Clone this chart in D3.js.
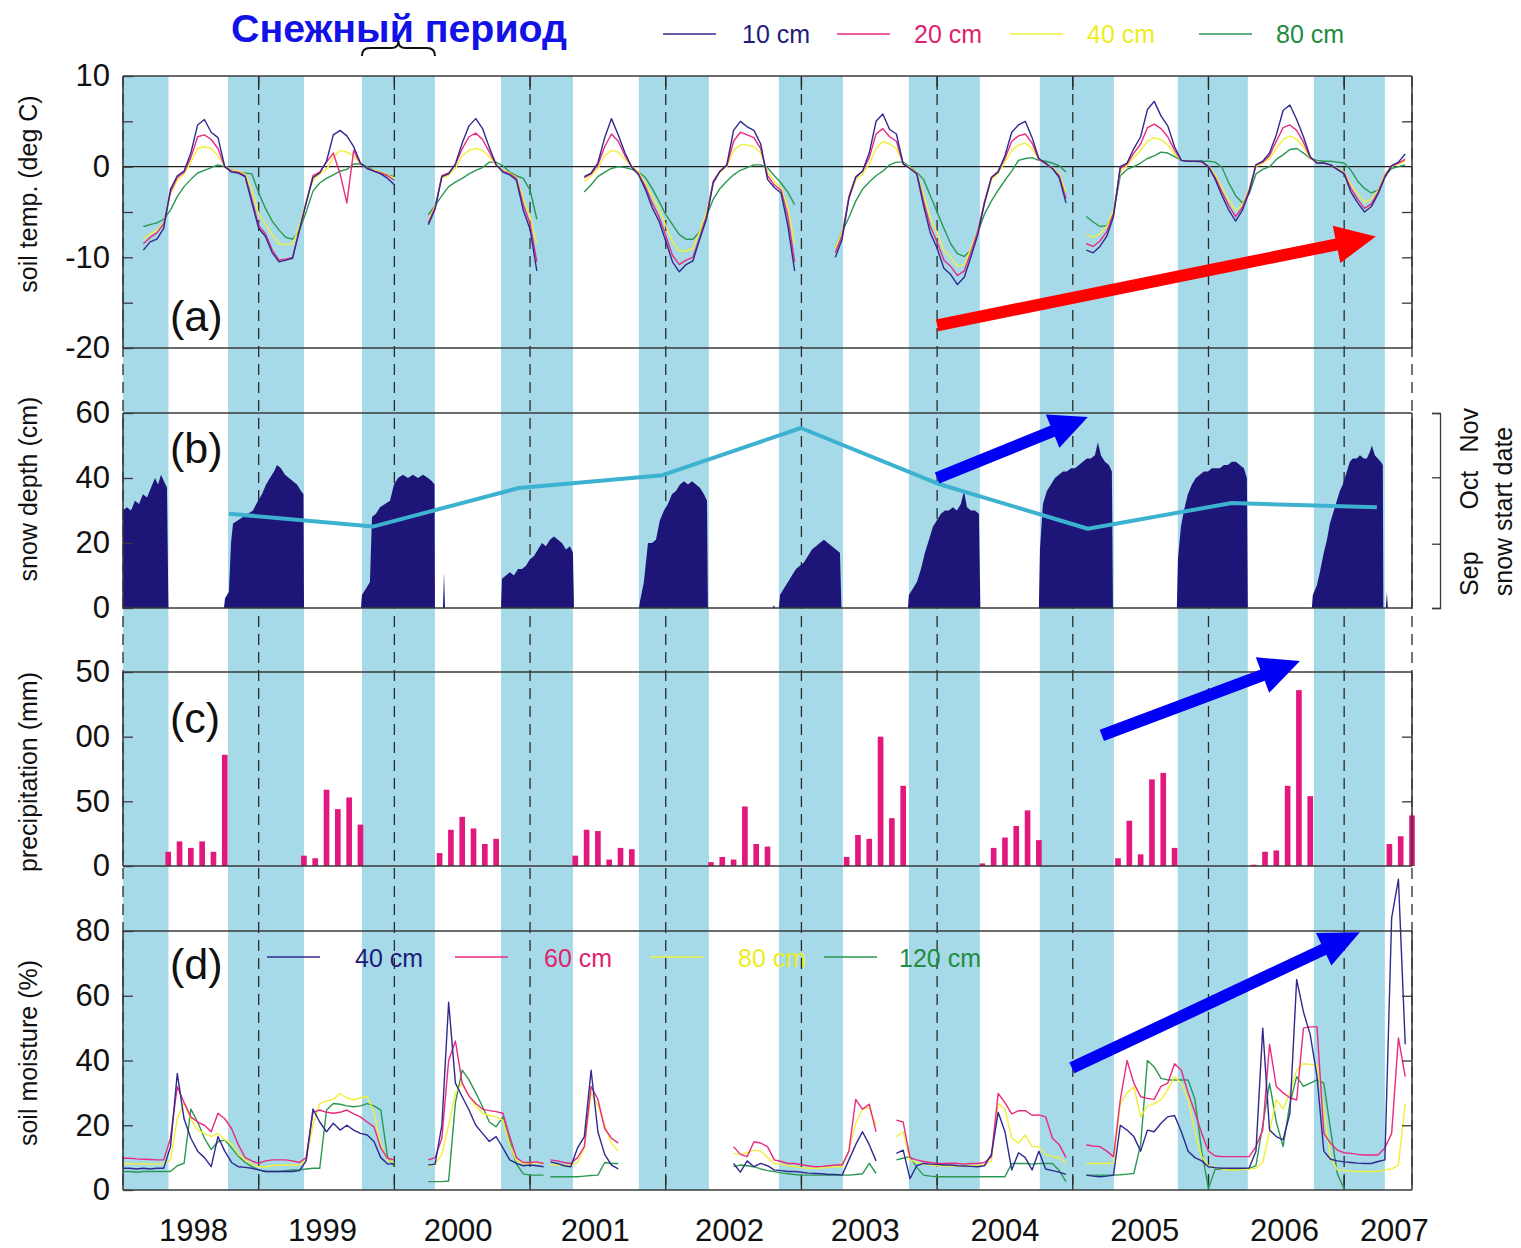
<!DOCTYPE html>
<html>
<head>
<meta charset="utf-8">
<script src="https://cdn.jsdelivr.net/npm/d3@7"></script>
<style>
  html, body { margin: 0; padding: 0; background: #ffffff; }
  svg { display: block; }
  text { font-family: "Liberation Sans", Arial, Helvetica, sans-serif; }
</style>
</head>
<body>
<svg id="chart" width="1521" height="1248"></svg>
<script>
// ---------------------------------------------------------------
// Data
// ---------------------------------------------------------------

// Snow-covered periods (decimal years), drawn as light-blue bands
const snowPeriods = [
  [1998.000, 1998.335], [1998.774, 1999.334], [1999.761, 2000.299],
  [2000.786, 2001.316], [2001.802, 2002.318], [2002.834, 2003.306],
  [2003.792, 2004.315], [2004.757, 2005.303], [2005.774, 2006.290],
  [2006.777, 2007.300]
];

// Year labels on the time axis and where they sit (decimal years)
const yearLabels = ["1998", "1999", "2000", "2001", "2002", "2003", "2004", "2005", "2006", "2007"];
const yearLabelPos = [1998.52, 1999.47, 2000.47, 2001.48, 2002.47, 2003.47, 2004.50, 2005.53, 2006.56, 2007.37];

// Sensor readings are on a regular grid of 0.05 yr, stored by record segment
const gridStep = 0.05;

// (a) soil temperature, deg C
const tempSegmentStarts = [1998.15, 2000.25, 2001.40, 2003.25, 2005.10];
const soilTemp10 = [
  [-9.2,-8.3,-8.0,-6.8,-2.5,-1.0,-0.5,1.5,4.6,5.2,3.8,3.2,0.0,-0.6,-0.7,-1.1,-4.0,-6.8,-7.7,-9.5,-10.5,-10.3,-10.1,-7.0,-4.0,-1.2,-0.7,0.6,3.5,4.0,3.4,2.2,0.4,-0.2,-0.5,-0.8,-1.3,-2.0],
  [-6.4,-4.7,-1.1,-0.8,0.3,2.6,4.5,5.3,4.2,2.1,0.2,-0.6,-0.9,-1.5,-4.8,-6.9,-11.5],
  [-1.1,-0.7,0.4,3.2,5.3,3.5,1.5,-0.1,-0.9,-2.5,-4.5,-6.0,-8.2,-10.5,-11.6,-10.8,-10.4,-8.0,-5.8,-1.8,-0.5,0.2,4.0,5.0,4.4,4.0,2.5,-1.4,-2.3,-2.9,-6.5,-11.5],
  [-10.0,-8.0,-3.5,-1.2,-0.5,1.5,5.0,5.8,4.1,3.6,0.3,-0.2,-0.8,-4.3,-7.3,-9.0,-11.2,-11.9,-13.0,-12.2,-9.9,-7.5,-4.0,-1.2,-0.6,1.2,3.8,4.6,5.0,3.2,0.9,0.4,-0.2,-1.2,-4.0],
  [-9.2,-9.5,-8.8,-7.7,-5.5,0.0,0.4,2.0,3.3,6.3,7.2,5.6,4.5,2.2,0.7,0.6,0.6,0.6,0.0,-1.4,-3.2,-4.8,-6.0,-4.8,-2.8,0.2,0.6,1.5,3.5,6.2,6.8,5.2,3.3,1.1,0.4,0.4,0.2,-0.3,-0.8,-2.8,-4.0,-5.0,-4.4,-3.0,-1.2,0.1,0.5,1.4]
];
const soilTemp20 = [
  [-8.5,-7.8,-7.3,-6.3,-2.8,-1.2,-0.6,1.0,3.3,3.5,3.0,2.0,0.0,-0.5,-0.6,-1.0,-3.6,-6.5,-7.4,-9.2,-10.3,-10.2,-10.0,-7.0,-4.0,-1.0,-0.6,0.5,1.5,-0.8,-4.0,1.8,0.3,-0.2,-0.5,-0.7,-1.0,-1.5],
  [-6.2,-4.5,-1.0,-0.7,0.2,2.0,3.3,3.7,3.0,1.6,0.2,-0.5,-0.8,-1.3,-4.2,-6.3,-10.5],
  [-1.2,-0.8,0.2,2.2,3.6,2.8,1.2,0.0,-0.8,-2.2,-4.0,-5.5,-7.6,-9.8,-10.8,-10.3,-10.0,-7.8,-5.5,-1.6,-0.5,0.1,2.8,3.8,3.5,3.2,2.0,-1.0,-2.0,-2.6,-5.5,-10.5],
  [-9.5,-7.6,-3.3,-1.1,-0.5,1.0,3.6,4.2,3.3,2.8,0.3,-0.2,-0.7,-3.8,-6.6,-8.3,-10.3,-11.0,-12.0,-11.5,-9.4,-7.1,-3.8,-1.2,-0.5,0.9,2.8,3.4,3.6,2.6,0.8,0.3,-0.2,-1.0,-3.5],
  [-8.5,-8.8,-8.2,-7.2,-5.2,-0.2,0.3,1.5,2.5,4.3,4.7,4.2,3.3,1.8,0.7,0.6,0.6,0.5,0.0,-1.2,-2.8,-4.3,-5.5,-4.5,-2.6,0.2,0.5,1.2,2.8,4.3,4.6,4.0,2.7,1.0,0.4,0.4,0.2,-0.3,-0.7,-2.4,-3.6,-4.6,-4.1,-2.8,-1.0,0.1,0.4,0.8]
];
const soilTemp40 = [
  [-8.0,-7.4,-7.0,-6.2,-3.0,-1.5,-0.8,0.5,2.0,2.2,2.0,1.2,0.1,-0.4,-0.5,-0.8,-2.5,-5.2,-6.3,-7.5,-8.5,-8.6,-8.5,-6.5,-3.8,-1.5,-0.8,-0.3,1.0,1.8,1.6,1.2,0.3,-0.2,-0.4,-0.6,-0.9,-1.3],
  [-6.0,-4.3,-1.3,-0.9,-0.2,1.2,1.8,2.0,1.8,1.1,0.2,-0.4,-0.7,-1.2,-3.5,-5.5,-8.5],
  [-1.6,-1.0,-0.2,1.2,1.8,1.6,0.8,0.0,-0.6,-1.8,-3.3,-4.6,-6.5,-8.3,-9.3,-9.3,-9.0,-7.2,-5.0,-1.8,-0.6,0.0,1.8,2.4,2.4,2.2,1.5,-0.6,-1.6,-2.3,-4.5,-8.5],
  [-9.0,-7.2,-3.5,-1.5,-0.8,0.3,2.0,2.8,2.5,2.0,0.4,-0.1,-0.6,-3.0,-5.6,-7.3,-9.2,-10.0,-11.0,-10.8,-9.0,-7.0,-4.0,-1.5,-0.7,0.5,1.8,2.4,2.6,2.0,0.8,0.3,-0.1,-0.8,-2.8],
  [-7.5,-7.8,-7.4,-6.6,-4.8,-0.5,0.1,1.0,1.8,2.8,3.2,3.0,2.4,1.4,0.7,0.6,0.6,0.5,0.1,-0.9,-2.3,-3.7,-4.8,-4.2,-2.4,0.0,0.4,0.9,2.0,3.0,3.4,3.0,2.2,0.9,0.5,0.4,0.2,-0.2,-0.6,-2.0,-3.0,-3.9,-3.6,-2.6,-0.8,0.0,0.3,0.6]
];
const soilTemp80 = [
  [-6.6,-6.4,-6.2,-5.8,-4.8,-3.3,-2.2,-1.4,-0.7,-0.4,-0.1,0.2,0.0,-0.4,-0.6,-0.7,-0.8,-2.9,-4.6,-6.0,-7.0,-7.8,-8.0,-7.0,-5.0,-2.7,-1.8,-1.3,-0.9,-0.5,-0.3,0.3,0.3,0.0,-0.4,-0.6,-0.9,-1.1],
  [-5.3,-4.3,-3.2,-2.2,-1.7,-1.3,-0.8,-0.4,-0.1,0.5,0.5,0.1,-0.6,-1.0,-1.3,-2.6,-5.8],
  [-2.8,-2.0,-1.1,-0.6,-0.2,0.0,-0.1,-0.3,-0.6,-1.2,-2.4,-3.8,-5.3,-6.4,-7.5,-8.0,-8.0,-7.2,-5.5,-3.6,-2.4,-1.6,-0.9,-0.4,-0.1,0.2,0.2,-0.1,-1.0,-1.8,-2.8,-4.2],
  [-9.0,-7.2,-5.6,-3.8,-2.5,-1.7,-1.0,-0.5,0.2,0.5,0.5,0.0,-0.6,-1.4,-3.2,-5.0,-6.8,-8.5,-9.6,-9.9,-9.2,-7.3,-5.2,-3.8,-2.6,-1.5,-0.5,0.7,0.9,1.0,0.7,0.6,0.4,0.1,-0.6],
  [-5.5,-6.1,-6.6,-6.5,-5.2,-1.0,-0.3,0.0,0.4,0.9,1.2,1.6,1.5,1.1,0.7,0.6,0.6,0.6,0.6,0.5,-0.1,-1.8,-3.2,-4.0,-3.0,-0.8,-0.3,0.0,0.8,1.3,1.9,2.0,1.5,0.9,0.7,0.6,0.6,0.5,0.4,-0.4,-1.6,-2.4,-2.9,-2.6,-1.0,-0.2,0.0,0.2]
];

// (b) snow depth, cm: [decimal year, depth]
const snowDepth = [
  [1998.000,30],[1998.029,31],[1998.059,30],[1998.088,33],[1998.118,32],[1998.147,35],[1998.177,34],[1998.206,37],[1998.236,40],[1998.258,38],[1998.280,41],[1998.302,39],[1998.324,37],[1998.335,0],
  [1998.744,0],[1998.752,3],[1998.781,5],[1998.796,20],[1998.811,26],[1998.848,27],[1998.884,28],[1998.921,29],[1998.958,30],[1998.995,33],[1999.024,35],[1999.054,38],[1999.083,40],[1999.113,42],[1999.135,44],[1999.164,43],[1999.194,41],[1999.223,40],[1999.253,39],[1999.282,38],[1999.312,36],[1999.330,35],[1999.334,0],
  [1999.754,0],[1999.761,4],[1999.791,6],[1999.820,8],[1999.835,28],[1999.864,29],[1999.894,31],[1999.931,32],[1999.968,33],[1999.997,38],[2000.027,40],[2000.063,41],[2000.100,40],[2000.137,41],[2000.174,40],[2000.211,41],[2000.248,40],[2000.277,39],[2000.296,38],[2000.299,0],[2000.358,0],[2000.366,11],[2000.373,0],
  [2000.786,0],[2000.793,9],[2000.822,10],[2000.852,11],[2000.881,10],[2000.911,12],[2000.940,12],[2000.970,13],[2000.999,15],[2001.029,16],[2001.058,18],[2001.088,20],[2001.117,19],[2001.147,21],[2001.176,22],[2001.206,21],[2001.235,20],[2001.265,18],[2001.294,19],[2001.316,17],[2001.324,0],
  [2001.803,0],[2001.810,2],[2001.839,8],[2001.869,20],[2001.898,20],[2001.928,21],[2001.957,27],[2001.987,30],[2002.016,32],[2002.046,35],[2002.075,36],[2002.105,38],[2002.134,39],[2002.164,38],[2002.193,39],[2002.223,38],[2002.252,37],[2002.282,35],[2002.304,33],[2002.311,0],
  [2002.790,0],[2002.797,1],[2002.805,0],[2002.834,0],[2002.842,4],[2002.871,6],[2002.901,8],[2002.930,10],[2002.960,12],[2002.989,13],[2003.018,14],[2003.048,16],[2003.077,18],[2003.107,19],[2003.136,20],[2003.166,21],[2003.195,20],[2003.225,19],[2003.254,18],[2003.284,17],[2003.295,0],
  [2003.785,0],[2003.792,4],[2003.822,6],[2003.851,8],[2003.881,12],[2003.910,17],[2003.940,21],[2003.969,25],[2003.999,27],[2004.028,29],[2004.058,30],[2004.087,30],[2004.116,31],[2004.146,30],[2004.175,32],[2004.198,36],[2004.220,31],[2004.249,30],[2004.279,30],[2004.308,29],[2004.319,0],
  [2004.750,0],[2004.758,18],[2004.780,32],[2004.809,36],[2004.839,38],[2004.868,40],[2004.898,41],[2004.927,42],[2004.957,42],[2004.986,43],[2005.016,43],[2005.045,44],[2005.074,45],[2005.104,46],[2005.133,46],[2005.163,47],[2005.185,51],[2005.207,47],[2005.237,45],[2005.266,44],[2005.288,42],[2005.296,0],
  [2005.767,0],[2005.775,15],[2005.797,25],[2005.819,30],[2005.848,35],[2005.878,38],[2005.907,40],[2005.937,41],[2005.966,42],[2005.996,42],[2006.025,43],[2006.055,43],[2006.084,43],[2006.114,44],[2006.143,44],[2006.172,45],[2006.202,45],[2006.231,44],[2006.261,43],[2006.283,40],[2006.290,0],
  [2006.762,0],[2006.769,4],[2006.799,7],[2006.821,11],[2006.850,17],[2006.873,21],[2006.895,26],[2006.917,29],[2006.946,33],[2006.968,36],[2006.990,38],[2007.020,42],[2007.042,45],[2007.064,46],[2007.094,46],[2007.116,47],[2007.145,46],[2007.167,46],[2007.189,48],[2007.204,50],[2007.226,47],[2007.248,46],[2007.270,45],[2007.285,44],[2007.289,0],[2007.307,0],[2007.315,5],[2007.322,0]
];

// (b, right axis) snow start date, days after 1 September
const snowStartYears = [1998.781, 1999.842, 2000.918, 2001.976, 2002.996, 2004.006, 2005.111, 2006.172, 2007.241];
const snowStartDays  = [44, 38, 56, 62, 84, 58, 37, 49, 47];
const monthBoundaryDays = [0, 30, 61, 91];
const monthLabels = ["Sep", "Oct", "Nov"];
const monthLabelDays = [16, 55, 83];

// (c) monthly precipitation, mm (May..Oct of each year; 2007 to July)
const precipYears = [1998, 1999, 2000, 2001, 2002, 2003, 2004, 2005, 2006, 2007];
const precipFirstMonth = 5;
const precipMonthly = [
  [11, 19, 14, 19, 11, 86],
  [8, 6, 59, 44, 53, 32],
  [10, 28, 38, 29, 17, 21],
  [8, 28, 27, 5, 14, 13],
  [3, 7, 5, 46, 17, 15],
  [7, 24, 21, 100, 37, 62],
  [2, 14, 22, 31, 43, 20],
  [6, 35, 9, 67, 72, 14],
  [1, 11, 12, 62, 136, 54],
  [17, 23, 39]
];
const precipTicks = [0, 50, 100, 150];
const precipTickLabels = ["0", "50", "00", "50"];

// (d) soil moisture, %
const moistSegmentStarts = [1998.00, 2000.25, 2001.15, 2002.50, 2003.70, 2005.10];
const moist40 = [
  [6.7,6.7,6.5,6.7,6.5,6.7,6.7,13.4,36,22,16,12,10,7.2,16.5,12,8.5,7.2,7.0,6.7,6.2,5.7,5.7,5.7,5.7,5.7,6.0,9.0,25,21,18,20.6,18.5,20,18.5,17.5,17,15,10,8,8.2],
  [7.7,8.0,20,58,33,28.8,24.7,20,17.5,15,16.5,13,9.3,8.2,7.5,7.7,7.5,7.2],
  [8.7,8.2,7.5,7.2,13,16.5,37,18,11,7.7,6.5],
  [8.2,5.5,9.0,7.2,8.2,7.5,6.2,6.0,5.7,5.7,5.5,5.2,5.1,5.0,4.8,4.8,4.6,9.3,14,18,14,9],
  [11.3,12.3,3.5,7.5,8.2,8.0,7.9,7.7,7.7,7.5,7.4,7.3,7.2,7.5,11,24,18,6.2,11.5,10,6.2,12,6.5,6.0,5.5,4.8],
  [4.6,4.3,4.1,4.3,4.6,20,18.5,16.5,12,18.5,18,20.6,22.6,23,18,12,10,9.0,7.2,6.9,6.7,6.7,6.7,6.7,6.8,12,50,18.5,16.5,15.5,23.7,65,55,48,35,12,9.5,9.0,8.7,8.5,8.3,8.2,8.2,8.8,9.3,84,96,45]
];
const moist60 = [
  [9.8,9.8,9.6,9.5,9.4,9.3,9.3,16,32,27,22.6,21,20,18,23.7,22,19,14,10,9,8.2,9.0,9.3,9.3,9.3,9.0,8.5,10,24,24.7,24,23.7,24,24.7,23.5,22.6,21,19.5,13,9.8,9.3],
  [9.3,10,16,40,46,33,29,26.7,25,24.5,24.2,23.7,16.5,10,8.5,8.5,8.7,8.2],
  [9.3,9.0,8.5,8.2,10,13.4,32,28,19,16,14.5],
  [13.4,11,10.3,14.9,14.5,13.4,9.3,8.8,8.2,8.2,7.8,7.5,7.2,7.3,7.5,7.7,7.7,12,28,25,26.5,18],
  [21.6,21,10,9.3,8.8,8.5,8.2,8.2,8.3,8.2,8.0,8.2,8.2,8.5,10.3,29.8,27,23.5,24.5,24.5,23.1,23.2,22.6,16,14,10],
  [13.9,13.6,13.4,12,10.3,27.8,40,33,28.8,28.3,28,32,33,39,37,30,24,17.5,12,10.5,10.3,10.3,10.3,10.3,10.3,13.4,18.5,45,32,30,28.5,27.8,50,50.4,50.4,17.5,14.4,12.3,11.5,11.3,11.0,10.8,10.8,10.8,13,17.5,47,35]
];
const moist80 = [
  [8.2,8.2,8.0,8.2,8.0,8.0,8.2,9.3,22,27,22,18.5,17.5,16.5,17.5,15.5,14.4,11,9.3,8,7.2,7.2,7.5,7.7,7.7,7.7,7.7,9.5,20,26.7,27.5,28,29.8,28.5,27.8,28.5,28.8,24,14,9.3,8.2],
  [7.2,8,11,20,30,33,29,26,23.7,23,22.6,21.6,14,9,8.2,8,8.5,8.2],
  [7.7,7.7,7.5,7.7,8.5,13,30,26,20,14.4,12],
  [11.3,11,11.5,12.3,12,10,8.2,8,7.5,7.2,6.9,6.7,6.7,6.8,7,7.2,7.2,12,20.6,25,25.5,20],
  [16.5,18,9.3,8.5,8.0,7.8,7.5,7.5,7.4,7.4,7.5,7.6,7.6,7.7,9,26.7,25,16,14.5,17,13.4,13.4,11,10.3,10,8.2],
  [8.2,8.2,8.2,8.2,8.3,26.7,30,31.9,22.6,26,26.7,27.8,31,35,32.9,28,18,10.3,7.5,7.0,6.5,6.2,6.2,6.3,6.5,6.7,8.5,18,28,25,30,37,39,38.8,38.6,25,10,6.2,6.0,5.8,5.7,5.7,5.7,5.8,6.2,6.5,7.7,26.7]
];
const moist120 = [
  [5.7,5.7,5.5,5.7,5.7,5.7,5.7,5.7,7.5,8.2,25,21,16,12.5,15,15.4,13,10.5,8.5,7.2,6.2,5.7,5.7,5.7,6.0,6.2,6.2,6.5,6.7,6.7,24.7,26.7,26.5,26,25.7,26,26.7,26,24.7,10,7.2],
  [2.6,2.6,2.6,2.8,27,37,34,30,25.7,21,19.5,22.6,15,8,5,4.6,4.6,4.6],
  [4.1,4.1,4.1,4.1,4.1,4.3,4.5,4.6,8.5,8.2,8.2],
  [7.2,7.7,7.5,7.2,6.5,6.0,5.7,5.3,5.0,4.8,4.6,4.6,4.6,4.6,4.6,4.6,4.6,4.6,4.8,5.0,8.2,5.1],
  [9.3,9.8,10.3,7,4.6,4.3,4.1,4.1,4.1,4.1,4.1,4.1,4.1,4.1,4.1,4.1,4.1,8.2,8.2,8.2,8.0,8.2,8.2,8.2,6,2.6],
  [4.6,4.6,4.6,4.6,4.6,4.7,4.9,5.1,14,40,38,34.5,34,34,34,34,28,12,0.5,6.5,6.4,6.4,6.4,6.5,6.6,7.5,20,33,21,13.4,26.7,35,32,33,34,33,18.5,5,0.3,null,null,null,null,null,null,null,null,null]
];

// Legends
const tempDepths = ["10 cm", "20 cm", "40 cm", "80 cm"];
const moistDepths = ["40 cm", "60 cm", "80 cm", "120 cm"];

// Trend annotations, in data units of each panel: [year, value]
const tempTrendFrom = [2004.00, -17.5], tempTrendTo = [2007.233, -7.7];
const snowTrendFrom = [2004.00, 40.0], snowTrendTo = [2005.111, 58.8];
const precipTrendFrom = [2005.214, 101], precipTrendTo = [2006.674, 158.5];
const moistTrendFrom = [2004.993, 37.7], moistTrendTo = [2007.116, 79.6];

// ---------------------------------------------------------------
// Layout & scales
// ---------------------------------------------------------------
const svg = d3.select("#chart");
const FONT = "'Liberation Sans', Arial, Helvetica, sans-serif";
const X0 = 123, X1 = 1412, TOP = 76, BOTTOM = 1190;

const x = d3.scaleLinear().domain([1998, 2007.5]).range([X0, X1]);
const yTemp  = d3.scaleLinear().domain([-20, 10]).range([348, 76]);
const ySnow  = d3.scaleLinear().domain([0, 60]).range([608, 413]);
const yStart = d3.scaleLinear().domain([0, 91]).range([608, 413]);
const yPrec  = d3.scaleLinear().domain([0, 150]).range([866, 672]);
const yMoist = d3.scaleLinear().domain([0, 80]).range([1190, 931]);

const panels = [yTemp, ySnow, yPrec, yMoist];

const depthColors = ["#2f2a8f", "#ea2a80", "#f0f03a", "#2b9852"];
const legendTextColors = ["#1f1b78", "#e2226f", "#eded1e", "#228c40"];
const bandColor = "#a6dae8";
const frameColor = "#3a3a3a";

// ---------------------------------------------------------------
// Background: snow periods and year boundaries
// ---------------------------------------------------------------
svg.append("g").selectAll("rect")
  .data(snowPeriods).join("rect")
  .attr("x", d => x(d[0]))
  .attr("width", d => x(d[1]) - x(d[0]))
  .attr("y", TOP).attr("height", BOTTOM - TOP)
  .attr("fill", bandColor);

const gYears = svg.append("g");
gYears.selectAll("line")
  .data(d3.range(1999, 2008)).join("line")
  .attr("x1", d => x(d)).attr("x2", d => x(d))
  .attr("y1", TOP).attr("y2", BOTTOM)
  .attr("stroke", "#2a2a2a").attr("stroke-width", 1.3)
  .attr("stroke-dasharray", "11,7");
// short solid ticks at the outer edges
gYears.selectAll("line.tickTop")
  .data(d3.range(1999, 2008)).join("line").attr("class", "tickTop")
  .attr("x1", d => x(d)).attr("x2", d => x(d))
  .attr("y1", TOP).attr("y2", TOP + 14)
  .attr("stroke", "#2a2a2a").attr("stroke-width", 1.3);
gYears.selectAll("line.tickBot")
  .data(d3.range(1999, 2008)).join("line").attr("class", "tickBot")
  .attr("x1", d => x(d)).attr("x2", d => x(d))
  .attr("y1", BOTTOM - 14).attr("y2", BOTTOM)
  .attr("stroke", "#2a2a2a").attr("stroke-width", 1.3);

// plot edges run dashed through the gaps between panels
[X0, X1].forEach(px => {
  svg.append("line")
    .attr("x1", px).attr("x2", px).attr("y1", TOP).attr("y2", BOTTOM)
    .attr("stroke", "#2a2a2a").attr("stroke-width", 1.3)
    .attr("stroke-dasharray", "11,7");
});

// ---------------------------------------------------------------
// Helpers
// ---------------------------------------------------------------
function segmentPoints(starts, segs) {
  const pts = [];
  segs.forEach((vals, i) => {
    vals.forEach((v, j) => pts.push([starts[i] + j * gridStep, v]));
    pts.push([null, null]);
  });
  return pts;
}

function drawSeries(starts, seriesList, yScale) {
  const g = svg.append("g").attr("fill", "none");
  const line = d3.line()
    .defined(d => d[0] !== null && d[1] !== null)
    .x(d => x(d[0])).y(d => yScale(d[1]));
  // deepest first so the shallow record stays on top
  for (let i = seriesList.length - 1; i >= 0; i--) {
    g.append("path")
      .attr("d", line(segmentPoints(starts, seriesList[i])))
      .attr("stroke", depthColors[i])
      .attr("stroke-width", 1.4)
      .attr("stroke-linejoin", "round");
  }
}

function drawArrow(from, to, yScale, color, width, headLen, headHalf) {
  const x1 = x(from[0]), y1 = yScale(from[1]);
  const x2 = x(to[0]), y2 = yScale(to[1]);
  const L = Math.hypot(x2 - x1, y2 - y1);
  const ux = (x2 - x1) / L, uy = (y2 - y1) / L;
  const bx = x2 - ux * headLen, by = y2 - uy * headLen;
  const g = svg.append("g");
  g.append("line")
    .attr("x1", x1).attr("y1", y1)
    .attr("x2", bx + ux * 3).attr("y2", by + uy * 3)
    .attr("stroke", color).attr("stroke-width", width);
  g.append("polygon")
    .attr("points", [
      [x2, y2],
      [bx - uy * headHalf, by + ux * headHalf],
      [bx + uy * headHalf, by - ux * headHalf]
    ].map(p => p.join(",")).join(" "))
    .attr("fill", color);
}

function styleAxis(g, size) {
  g.select(".domain").remove();
  g.selectAll("line").attr("stroke", frameColor).attr("stroke-width", 1.3);
  g.selectAll("text")
    .attr("font-family", FONT).attr("font-size", size).attr("fill", "#111");
}

// ---------------------------------------------------------------
// Panel (a): soil temperature
// ---------------------------------------------------------------
svg.append("line")
  .attr("x1", X0).attr("x2", X1).attr("y1", yTemp(0)).attr("y2", yTemp(0))
  .attr("stroke", "#222").attr("stroke-width", 1.3);
drawSeries(tempSegmentStarts, [soilTemp10, soilTemp20, soilTemp40, soilTemp80], yTemp);

// ---------------------------------------------------------------
// Panel (b): snow depth and snow start date
// ---------------------------------------------------------------
svg.append("path")
  .attr("d", d3.area().x(d => x(d[0])).y0(ySnow(0)).y1(d => ySnow(d[1]))(snowDepth))
  .attr("fill", "#1d1577");

svg.append("path")
  .attr("d", d3.line().x((d, i) => x(snowStartYears[i])).y(d => yStart(d))(snowStartDays))
  .attr("fill", "none").attr("stroke", "#3db2d0").attr("stroke-width", 4)
  .attr("stroke-linejoin", "round");

// ---------------------------------------------------------------
// Panel (c): precipitation bars
// ---------------------------------------------------------------
const precipBars = [];
precipYears.forEach((yr, i) => {
  precipMonthly[i].forEach((v, j) => {
    precipBars.push({ t: yr + (precipFirstMonth - 1 + j) / 12, v });
  });
});
const barW = x(1998 + 0.5 / 12) - x(1998);
svg.append("g").selectAll("rect")
  .data(precipBars).join("rect")
  .attr("x", d => x(d.t) - barW / 2)
  .attr("width", barW)
  .attr("y", d => yPrec(d.v))
  .attr("height", d => yPrec(0) - yPrec(d.v))
  .attr("fill", "#e3187d");

// ---------------------------------------------------------------
// Panel (d): soil moisture
// ---------------------------------------------------------------
drawSeries(moistSegmentStarts, [moist40, moist60, moist80, moist120], yMoist);

// ---------------------------------------------------------------
// Panel frames and axes
// ---------------------------------------------------------------
panels.forEach(ys => {
  const [b, t] = ys.range();
  const g = svg.append("g").attr("stroke", frameColor).attr("stroke-width", 1.6);
  g.append("line").attr("x1", X0).attr("x2", X1).attr("y1", t).attr("y2", t);
  g.append("line").attr("x1", X0).attr("x2", X1).attr("y1", b).attr("y2", b);
  g.append("line").attr("x1", X0).attr("x2", X0).attr("y1", t).attr("y2", b);
  g.append("line").attr("x1", X1).attr("x2", X1).attr("y1", t).attr("y2", b);
});

function leftAxis(ys, values, labelFn) {
  const g = svg.append("g").attr("transform", `translate(${X0},0)`)
    .call(d3.axisLeft(ys).tickValues(values).tickSize(-10).tickPadding(13).tickFormat(labelFn));
  styleAxis(g, 31);
}
function rightTicks(ys, values) {
  const g = svg.append("g").attr("transform", `translate(${X1},0)`)
    .call(d3.axisRight(ys).tickValues(values).tickSize(-10).tickFormat(""));
  styleAxis(g, 10);
}

leftAxis(yTemp, [-20, -15, -10, -5, 0, 5, 10], d => (d % 10 === 0 ? String(d) : ""));
rightTicks(yTemp, [-15, -10, -5, 5]);
leftAxis(ySnow, [0, 20, 40, 60], d => String(d));
leftAxis(yPrec, precipTicks, d => precipTickLabels[precipTicks.indexOf(d)]);
rightTicks(yPrec, [50, 100]);
leftAxis(yMoist, [0, 20, 40, 60, 80], d => String(d));
rightTicks(yMoist, [20, 40, 60]);

// right axis of (b): snow start date
const gStart = svg.append("g").attr("transform", "translate(1440,0)")
  .call(d3.axisLeft(yStart).tickValues(monthBoundaryDays).tickSize(8).tickSizeOuter(8).tickFormat(""));
gStart.selectAll("line, path").attr("stroke", frameColor).attr("stroke-width", 1.3);
gStart.select(".domain").attr("fill", "none");
monthLabels.forEach((m, i) => {
  svg.append("text")
    .attr("transform", `translate(1478,${yStart(monthLabelDays[i])}) rotate(-90)`)
    .attr("text-anchor", "middle")
    .attr("font-family", FONT).attr("font-size", 25).attr("fill", "#111")
    .text(m);
});
svg.append("text")
  .attr("transform", `translate(1512,${(yStart(0) + yStart(91)) / 2 + 1}) rotate(-90)`)
  .attr("text-anchor", "middle")
  .attr("font-family", FONT).attr("font-size", 25).attr("fill", "#111")
  .text("snow start date");

// year labels
svg.append("g").selectAll("text")
  .data(yearLabels).join("text")
  .attr("x", (d, i) => x(yearLabelPos[i]))
  .attr("y", 1241)
  .attr("text-anchor", "middle")
  .attr("font-family", FONT).attr("font-size", 31).attr("fill", "#111")
  .text(d => d);

// y-axis titles
const yTitles = [
  ["soil temp. (deg C)", 194],
  ["snow depth (cm)", 489],
  ["precipitation (mm)", 772],
  ["soil moisture (%)", 1053]
];
yTitles.forEach(([t, cy]) => {
  svg.append("text")
    .attr("transform", `translate(37,${cy}) rotate(-90)`)
    .attr("text-anchor", "middle")
    .attr("font-family", FONT).attr("font-size", 25).attr("fill", "#111")
    .text(t);
});

// panel letters
[["(a)", 331], ["(b)", 463], ["(c)", 733], ["(d)", 979]].forEach(([t, by]) => {
  svg.append("text")
    .attr("x", 170).attr("y", by)
    .attr("font-family", FONT).attr("font-size", 43).attr("fill", "#111")
    .text(t);
});

// ---------------------------------------------------------------
// Trend arrows
// ---------------------------------------------------------------
drawArrow(tempTrendFrom, tempTrendTo, yTemp, "#ff0000", 12, 40, 19);
drawArrow(snowTrendFrom, snowTrendTo, ySnow, "#0000f5", 12, 38, 18);
drawArrow(precipTrendFrom, precipTrendTo, yPrec, "#0000f5", 12, 40, 19);
drawArrow(moistTrendFrom, moistTrendTo, yMoist, "#0000f5", 12, 40, 18);

// ---------------------------------------------------------------
// Legends
// ---------------------------------------------------------------
function legend(labels, lineStarts, textStarts, ly, baseline) {
  const g = svg.append("g");
  labels.forEach((lab, i) => {
    g.append("line")
      .attr("x1", lineStarts[i]).attr("x2", lineStarts[i] + 53)
      .attr("y1", ly).attr("y2", ly)
      .attr("stroke", depthColors[i]).attr("stroke-width", 1.6);
    g.append("text")
      .attr("x", textStarts[i]).attr("y", baseline)
      .attr("font-family", FONT).attr("font-size", 25)
      .attr("fill", legendTextColors[i])
      .text(lab);
  });
}
legend(tempDepths, [663, 837, 1010, 1199], [742, 914, 1087, 1276], 34, 43);
legend(moistDepths, [267, 455, 650, 824], [355, 544, 738, 899], 957, 967);

// ---------------------------------------------------------------
// Title with a brace over one snow period
// ---------------------------------------------------------------
svg.append("text")
  .attr("x", 231).attr("y", 42)
  .attr("textLength", 336).attr("lengthAdjust", "spacingAndGlyphs")
  .attr("font-family", FONT).attr("font-weight", "bold").attr("font-size", 38)
  .attr("fill", "#1212e6")
  .text("Снежный период");

const braceBand = snowPeriods[2];
const bx1 = x(braceBand[0]), bx2 = x(braceBand[1]), bm = (bx1 + bx2) / 2;
svg.append("path")
  .attr("d", `M${bx1},56 Q${bx1},48 ${bx1 + 8},48 L${bm - 7},48 Q${bm},48 ${bm},41 Q${bm},48 ${bm + 7},48 L${bx2 - 8},48 Q${bx2},48 ${bx2},56`)
  .attr("fill", "none").attr("stroke", "#111").attr("stroke-width", 2);
</script>
</body>
</html>
